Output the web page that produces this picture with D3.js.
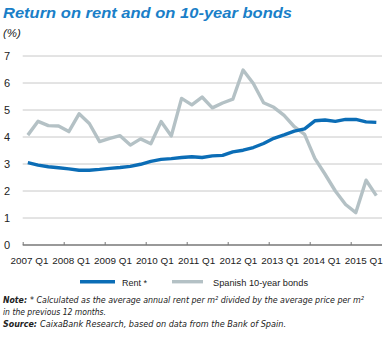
<!DOCTYPE html>
<html lang="en">
<head>
<meta charset="utf-8">
<title>Return on rent and on 10-year bonds</title>
<script src="https://cdn.jsdelivr.net/npm/d3@7"></script>
<style>
  body { margin: 0; background: #fff; }
  text { font-family: "Liberation Sans", Arial, sans-serif; fill: #222; }
  .narrow { font-family: "Liberation Sans Narrow", "DejaVu Sans Condensed", "Liberation Sans", sans-serif; }
</style>
</head>
<body>
<script>
// quarterly data, 2007 Q1 .. 2015 Q3
var rent = [3.05, 2.96, 2.90, 2.86, 2.82, 2.77, 2.77, 2.80, 2.84, 2.87, 2.91, 2.99,
            3.10, 3.17, 3.20, 3.24, 3.27, 3.24, 3.30, 3.32, 3.45, 3.51, 3.61, 3.76,
            3.95, 4.08, 4.22, 4.30, 4.60, 4.63, 4.58, 4.65, 4.65, 4.56, 4.54];
var bonds = [4.07, 4.58, 4.42, 4.41, 4.20, 4.86, 4.50, 3.83, 3.95, 4.05, 3.70, 3.93,
             3.75, 4.57, 4.04, 5.43, 5.19, 5.48, 5.08, 5.26, 5.40, 6.48, 5.98, 5.27,
             5.10, 4.80, 4.38, 4.10, 3.21, 2.62, 2.00, 1.50, 1.20, 2.40, 1.83];
var yearLabels = ["2007 Q1", "2008 Q1", "2009 Q1", "2010 Q1", "2011 Q1",
                  "2012 Q1", "2013 Q1", "2014 Q1", "2015 Q1"];
var yTicks = [0, 1, 2, 3, 4, 5, 6, 7];

var W = 385, H = 338;
var mLeft = 22.7, mRight = 382, mTop = 56, mBottom = 245;
var q = 10.25; // px per quarter

var svg = d3.select("body").append("svg")
    .attr("width", W).attr("height", H);

// scales
var x = d3.scaleLinear().domain([0, 36]).range([mLeft, mLeft + 36 * q]);
var y = d3.scaleLinear().domain([0, 7]).range([mBottom, mTop]);
var xLab = d3.scaleLinear().domain([0, 8]).range([29.5, 363.7]);

// fit a text to a given width: shrink font if it is too wide, then stretch exactly
function fit(sel, len) {
  var node = sel.node();
  var fs = parseFloat(sel.style("font-size"));
  var w = node.getComputedTextLength();
  if (w > len) sel.style("font-size", (fs * len / w) + "px");
  sel.attr("textLength", len).attr("lengthAdjust", "spacingAndGlyphs");
  return sel;
}

// title
fit(svg.append("text")
    .attr("x", 3).attr("y", 18)
    .style("font-size", "15.5px").style("font-weight", "bold").style("font-style", "italic")
    .style("fill", "#1a7fc8")
    .text("Return on rent and on 10-year bonds"), 289);

svg.append("text")
    .attr("x", 3).attr("y", 37)
    .style("font-size", "11.5px").style("font-style", "italic")
    .text("(%)");

// gridlines
svg.append("g").selectAll("line")
    .data(yTicks.filter(d => d > 0))
    .join("line")
    .attr("x1", mLeft).attr("x2", mRight)
    .attr("y1", d => y(d)).attr("y2", d => y(d))
    .attr("stroke", "#c8c8c8").attr("stroke-width", 1);

// y labels
svg.append("g").selectAll("text")
    .data(yTicks)
    .join("text")
    .attr("x", 10).attr("y", d => y(d))
    .attr("dy", "0.36em")
    .attr("text-anchor", "end")
    .style("font-size", "11px")
    .text(d => d);

// x axis
var xAxis = d3.axisBottom(x)
    .tickValues(d3.range(0, 33, 4))
    .tickSize(-3)
    .tickFormat("");
var gx = svg.append("g")
    .attr("transform", "translate(0," + mBottom + ")")
    .call(xAxis);
gx.select(".domain").attr("d", "M" + mLeft + ",0H" + mRight).attr("stroke", "#777").attr("stroke-width", 1.3);
gx.selectAll(".tick line").attr("stroke", "#777");

svg.append("g").selectAll("text")
    .data(yearLabels)
    .join("text")
    .attr("x", (d, i) => xLab(i)).attr("y", 263.5)
    .attr("text-anchor", "middle")
    .style("font-size", "9.9px")
    .text(d => d);

// lines
var line = d3.line()
    .x((d, i) => x(i + 0.5))
    .y(d => y(d));

svg.append("path")
    .datum(bonds)
    .attr("d", line)
    .attr("fill", "none")
    .attr("stroke", "#b4c1c5")
    .attr("stroke-width", 3.4)
    .attr("stroke-linejoin", "round");

svg.append("path")
    .datum(rent)
    .attr("d", line)
    .attr("fill", "none")
    .attr("stroke", "#0b6db6")
    .attr("stroke-width", 3.4)
    .attr("stroke-linejoin", "round");

// legend
var legend = [
  {name: "Rent *", color: "#0b6db6", x1: 80, x2: 115, tx: 122, tl: 25},
  {name: "Spanish 10-year bonds", color: "#b4c1c5", x1: 172, x2: 203, tx: 213, tl: 95}
];
var lg = svg.append("g").selectAll("g").data(legend).join("g");
lg.append("line")
    .attr("x1", d => d.x1).attr("x2", d => d.x2)
    .attr("y1", 281.7).attr("y2", 281.7)
    .attr("stroke", d => d.color).attr("stroke-width", 3.4);
lg.append("text")
    .attr("x", d => d.tx).attr("y", 285.5)
    .style("font-size", "10.5px")
    .text(d => d.name)
    .each(function(d) { fit(d3.select(this), d.tl); });

// notes
function note(txt, xx, yy, len, bold) {
  fit(svg.append("text")
      .attr("class", "narrow")
      .attr("x", xx).attr("y", yy)
      .style("font-size", "10.5px").style("font-style", "italic")
      .style("font-weight", bold ? "bold" : "normal")
      .text(txt), len);
}
note("Note:", 3, 302.5, 24, true);
note("* Calculated as the average annual rent per m\u00B2 divided by the average price per m\u00B2", 30, 302.5, 334, false);
note("in the previous 12 months.", 3, 314.8, 103, false);
note("Source:", 3, 327, 34, true);
note("CaixaBank Research, based on data from the Bank of Spain.", 40, 327, 246, false);
</script>
</body>
</html>
